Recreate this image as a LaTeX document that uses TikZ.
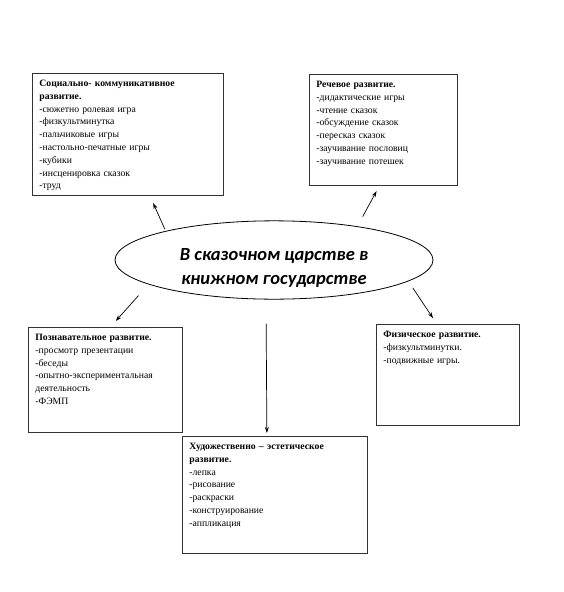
\documentclass[tikz,border=0pt]{standalone}
\usepackage{fontspec}
\setmainfont{Liberation Serif}
\newfontfamily\ellfont{Carlito}
\usetikzlibrary{arrows.meta,shapes.geometric}

\begin{document}
\begin{tikzpicture}[x=1pt,y=-1pt,font=\fontsize{9.7}{12.8}\selectfont,
  box/.style={draw=black!80,line width=0.8pt,anchor=north west,align=left,
    inner xsep=7pt,inner ysep=5pt,text height=8pt},
  pil/.style={-{Stealth[length=6pt,width=4pt]},line width=0.7pt}]
\useasboundingbox (0,0) rectangle (564,592);
% centre
\node[draw,ellipse,line width=0.8pt,minimum width=318pt,minimum height=75pt,inner sep=0pt,
  align=center,text height=52pt,text depth=3.4pt,
  font=\ellfont\bfseries\itshape\fontsize{18.5}{24}\selectfont] (ell) at (274,260)
  {В сказочном царстве в\\книжном государстве};
% boxes
\node[box,text width=177pt,text depth=104pt] (soc) at (32,73)
  {\textbf{Социально- коммуникативное}\\\textbf{развитие.}\\-сюжетно ролевая игра\\-физкультминутка\\
   -пальчиковые игры\\-настольно-печатные игры\\-кубики\\-инсценировка сказок\\-труд};
\node[box,text width=134pt,text depth=93pt] (rech) at (309,74)
  {\textbf{Речевое развитие.}\\-дидактические игры\\-чтение сказок\\-обсуждение сказок\\
   -пересказ сказок\\-заучивание пословиц\\-заучивание потешек};
\node[box,text width=140pt,text depth=87pt] (pozn) at (28,327)
  {\textbf{Познавательное развитие.}\\-просмотр презентации\\-беседы\\
   -опытно-экспериментальная\\деятельность\\-ФЭМП};
\node[box,text width=129pt,text depth=83pt] (fiz) at (376,324)
  {\textbf{Физическое развитие.}\\-физкультминутки.\\-подвижные игры.};
\node[box,text width=171pt,text depth=99pt] (hud) at (182,436)
  {\textbf{Художественно – эстетическое}\\\textbf{развитие.}\\-лепка\\-рисование\\-раскраски\\
   -конструирование\\-аппликация};
% arrows
\draw[pil,shorten <=2pt,shorten >=8pt] (ell.165) -- ([xshift=22pt]soc.south);
\draw[pil,shorten <=11pt,shorten >=6pt] (ell.22) -- ([xshift=-4pt]rech.south);
\draw[pil,shorten <=15pt,shorten >=8pt] (ell.191) -- ([xshift=5pt]pozn.north);
\draw[pil,shorten <=8pt,shorten >=7pt] (ell.-9) -- ([xshift=-11pt]fiz.north);
\draw[pil,shorten <=24pt,shorten >=3pt] ([xshift=-8pt]ell.south) -- ([xshift=-8pt]hud.north);
\end{tikzpicture}
\end{document}
